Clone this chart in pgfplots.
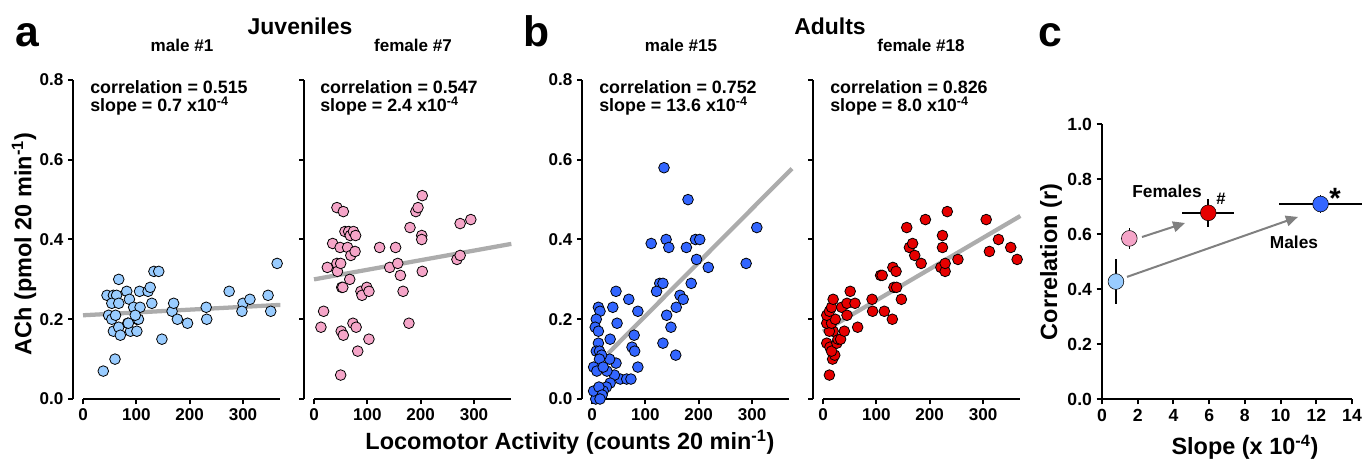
\documentclass[border=0pt]{standalone}
\usepackage{fontspec}
\setmainfont{Liberation Sans}
\usepackage{pgfplots}
\pgfplotsset{compat=1.18}
\usetikzlibrary{arrows.meta}

\definecolor{jmale}{RGB}{153,204,255}
\definecolor{jfem}{RGB}{245,165,200}
\definecolor{amale}{RGB}{51,102,255}
\definecolor{afem}{RGB}{230,0,0}
\definecolor{regline}{RGB}{172,172,172}
\definecolor{arrowgray}{RGB}{128,128,128}

\newcommand{\fs}[2]{\fontsize{#1}{#2}\selectfont\bfseries}

\pgfplotsset{
  panel/.style={
    scale only axis, anchor=south west,
    width=155.2pt, height=239.25pt,
    xmin=-18, xmax=370, ymin=0, ymax=0.8,
    axis x line*=bottom, axis y line*=left,
    axis line style={line width=1.5pt},
    x axis line style={draw=none},
    every tick/.style={black, line width=1.5pt},
    tick align=outside, major tick length=4pt,
    xtick={0,100,200,300}, ytick={0,0.2,0.4,0.6,0.8},
    yticklabel style={/pgf/number format/.cd, fixed, fixed zerofill, precision=1},
    ticklabel style={font=\fs{12.8}{15}},
    /pgf/number format/assume math mode=true,
    clip=false,
  },
  dots/.style={only marks, mark=*, mark size=4pt,
    mark options={draw=black, line width=0.6pt, fill=#1}},
  reg/.style={regline, line width=3.2pt},
}
\tikzset{note/.style={font=\fs{13.4}{15}, anchor=base west, inner sep=0pt}}

\begin{document}
\begin{tikzpicture}
\useasboundingbox (0,0) rectangle (1023.75pt,345pt);

% a: juvenile male #1
\begin{axis}[panel, at={(55.05pt,45.75pt)}]
\draw[line width=1.5pt] (axis cs:0,0) -- (axis cs:370,0);
\addplot[reg] coordinates {(0,0.21) (370,0.236)};
\addplot[dots=jmale] coordinates {
(38,0.07)(60,0.10)(45,0.26)(67,0.30)(57,0.26)(63,0.26)(54,0.24)(67,0.24)
(48,0.21)(54,0.20)(61,0.21)(57,0.17)(67,0.18)(70,0.16)(82,0.27)(87,0.25)
(84,0.19)(89,0.17)(95,0.23)(101,0.17)(101,0.20)(104,0.20)(106,0.27)(107,0.23)
(98,0.21)(85,0.19)(122,0.27)(126,0.28)(129,0.24)(133,0.32)(142,0.32)(148,0.15)
(167,0.22)(170,0.24)(177,0.20)(196,0.19)(231,0.23)(232,0.20)(274,0.27)(300,0.24)
(298,0.22)(313,0.25)(347,0.26)(352,0.22)(364,0.34)};
\end{axis}

% a: juvenile female #7
\begin{axis}[panel, at={(228.3pt,45.75pt)}, yticklabels={}]
\draw[line width=1.5pt] (axis cs:0,0) -- (axis cs:370,0);
\addplot[reg] coordinates {(0,0.30) (370,0.389)};
\addplot[dots=jfem] coordinates {
(13,0.18)(18,0.22)(25,0.33)(35,0.39)(43,0.48)(55,0.47)(43,0.34)(44,0.32)
(49,0.38)(50,0.34)(52,0.28)(54,0.28)(67,0.30)(63,0.38)(58,0.42)(65,0.42)
(68,0.41)(74,0.42)(78,0.41)(69,0.36)(77,0.37)(51,0.17)(55,0.16)(50,0.06)
(73,0.19)(79,0.18)(82,0.12)(103,0.15)(88,0.27)(99,0.28)(90,0.26)(103,0.27)
(123,0.38)(142,0.33)(153,0.38)(157,0.34)(162,0.31)(167,0.27)(178,0.19)(180,0.43)
(191,0.47)(195,0.48)(203,0.51)(202,0.41)(202,0.40)(203,0.32)(268,0.35)(274,0.36)
(274,0.44)(294,0.45)};
\end{axis}

% b: adult male #15
\begin{axis}[panel, at={(436.8pt,45.75pt)}]
\draw[line width=1.5pt] (axis cs:0,0) -- (axis cs:370,0);
\addplot[reg] coordinates {(30,0.114) (375,0.578)};
\addplot[dots=amale] coordinates {
(135,0.58)(180,0.50)(309,0.43)(111,0.39)(139,0.40)(144,0.38)(177,0.38)(194,0.40)
(202,0.40)(196,0.35)(218,0.33)(289,0.34)(127,0.29)(133,0.29)(121,0.27)(186,0.29)
(165,0.26)(171,0.25)(140,0.21)(158,0.23)(148,0.18)(133,0.14)(157,0.11)(45,0.27)
(69,0.25)(86,0.22)(39,0.23)(47,0.19)(34,0.15)(79,0.16)(75,0.13)(80,0.12)
(86,0.08)(45,0.09)(33,0.10)(53,0.05)(65,0.05)(73,0.05)(42,0.06)(34,0.04)
(28,0.07)(27,0.03)(21,0.02)(13,0.01)(7,0.00)(12,0.23)(15,0.22)(8,0.20)
(6,0.18)(12,0.17)(12,0.14)(8,0.12)(14,0.12)(18,0.11)(14,0.10)(3,0.08)
(9,0.07)(21,0.08)(3,0.02)(13,0.03)(19,0.01)(15,0.00)};
\end{axis}

% b: adult female #18
\begin{axis}[panel, at={(610.05pt,45.75pt)}, yticklabels={}]
\draw[line width=1.5pt] (axis cs:0,0) -- (axis cs:370,0);
\addplot[reg] coordinates {(0,0.169) (370,0.459)};
\addplot[dots=afem] coordinates {
(12,0.06)(18,0.10)(22,0.11)(7,0.14)(13,0.13)(16,0.12)(26,0.14)(28,0.15)
(33,0.15)(19,0.17)(12,0.17)(40,0.17)(7,0.19)(16,0.19)(23,0.20)(7,0.21)
(12,0.22)(16,0.23)(19,0.25)(35,0.23)(45,0.24)(45,0.21)(51,0.27)(60,0.24)
(65,0.18)(92,0.25)(93,0.22)(108,0.31)(111,0.31)(115,0.22)(130,0.20)(131,0.33)
(137,0.32)(133,0.28)(138,0.28)(147,0.25)(157,0.43)(162,0.38)(168,0.39)(172,0.36)
(184,0.34)(192,0.45)(224,0.41)(224,0.38)(221,0.33)(229,0.32)(229,0.34)(233,0.47)
(253,0.35)(306,0.45)(312,0.37)(329,0.40)(352,0.38)(364,0.35)};
\end{axis}

% c: summary
\begin{axis}[
  scale only axis, anchor=south west, at={(826.5pt,45.75pt)},
  width=187.5pt, height=206.25pt,
  xmin=0, xmax=14, ymin=0, ymax=1,
  axis x line*=bottom, axis y line*=left,
  axis line style={line width=1.5pt},
  every tick/.style={black, line width=1.5pt},
  tick align=outside, major tick length=4pt,
  xtick={0,2,4,6,8,10,12,14}, ytick={0,0.2,0.4,0.6,0.8,1.0},
  yticklabel style={/pgf/number format/.cd, fixed, fixed zerofill, precision=1},
  ticklabel style={font=\fs{13.2}{15}},
  /pgf/number format/assume math mode=true,
  clip=false,
]
\addplot[arrowgray, line width=1.5pt, -{Triangle[length=9pt,width=8pt]}]
  coordinates {(2.24,0.589) (4.65,0.64)};
\addplot[arrowgray, line width=1.5pt, -{Triangle[length=9pt,width=8pt]}]
  coordinates {(1.4,0.444) (10.97,0.662)};
\addplot[only marks, mark=*, mark size=5.9pt, mark options={draw=none, fill=jmale}]
  coordinates {(0.78,0.427)};
\addplot[only marks, mark=*, mark size=5.9pt, mark options={draw=none, fill=jfem}]
  coordinates {(1.53,0.584)};
\addplot[only marks, mark=*, mark size=5.9pt, mark options={draw=none, fill=afem}]
  coordinates {(5.95,0.677)};
\addplot[only marks, mark=*, mark size=5.9pt, mark options={draw=none, fill=amale}]
  coordinates {(12.24,0.709)};
\addplot[draw=none, mark=none,
  error bars/.cd, x dir=both, x explicit, y dir=both, y explicit,
  error mark=none, error bar style={draw=black, line width=1.2pt}]
  coordinates {
  (0.78,0.427) +- (0.19,0.083)
  (1.53,0.584) +- (0.36,0.038)
  (5.95,0.677) +- (1.46,0.052)
  (12.24,0.709) +- (2.34,0.034)};
\end{axis}

\begin{scope}[x=0.75pt, y=-0.75pt, yshift=345pt]
\node[font=\fs{32}{32}, anchor=base] at (27,47) {a};
\node[font=\fs{32}{32}, anchor=base] at (537,47) {b};
\node[font=\fs{32}{32}, anchor=base] at (1050,47) {c};
\node[font=\fs{17.2}{19}, anchor=base] at (300,35) {Juveniles};
\node[font=\fs{17.2}{19}, anchor=base] at (830,35) {Adults};
\node[font=\fs{12.8}{15}, anchor=base] at (182,52) {male \#1};
\node[font=\fs{12.8}{15}, anchor=base] at (413,52) {female \#7};
\node[font=\fs{12.8}{15}, anchor=base] at (681,52) {male \#15};
\node[font=\fs{12.8}{15}, anchor=base] at (921,52) {female \#18};

\node[note] at (90,94) {correlation = 0.515};
\node[note] at (90,112) {slope = 0.7 x10\textsuperscript{-4}};
\node[note] at (320,94) {correlation = 0.547};
\node[note] at (320,112) {slope = 2.4 x10\textsuperscript{-4}};
\node[note] at (599,94) {correlation = 0.752};
\node[note] at (599,112) {slope = 13.6 x10\textsuperscript{-4}};
\node[note] at (830,94) {correlation = 0.826};
\node[note] at (830,112) {slope = 8.0 x10\textsuperscript{-4}};

\node[font=\fs{17.6}{20}, rotate=90] at (24,244) {ACh (pmol 20 min\textsuperscript{-1})};
\node[font=\fs{17.6}{20}] at (570,442) {Locomotor Activity (counts 20 min\textsuperscript{-1})};
\node[font=\fs{17.6}{20}, rotate=90] at (1051,262) {Correlation (r)};
\node[font=\fs{17.6}{20}] at (1245,447) {Slope (x 10\textsuperscript{-4})};

\node[font=\fs{13}{15}, anchor=base] at (1167,198) {Females};
\node[font=\fs{13}{15}, anchor=base] at (1294,249) {Males};
\node[font=\fs{12.5}{14}, anchor=base, inner sep=0pt] at (1221,205) {\#};
\node[font=\fs{22}{24}, anchor=base, inner sep=0pt] at (1335,209) {*};
\end{scope}
\end{tikzpicture}
\end{document}
